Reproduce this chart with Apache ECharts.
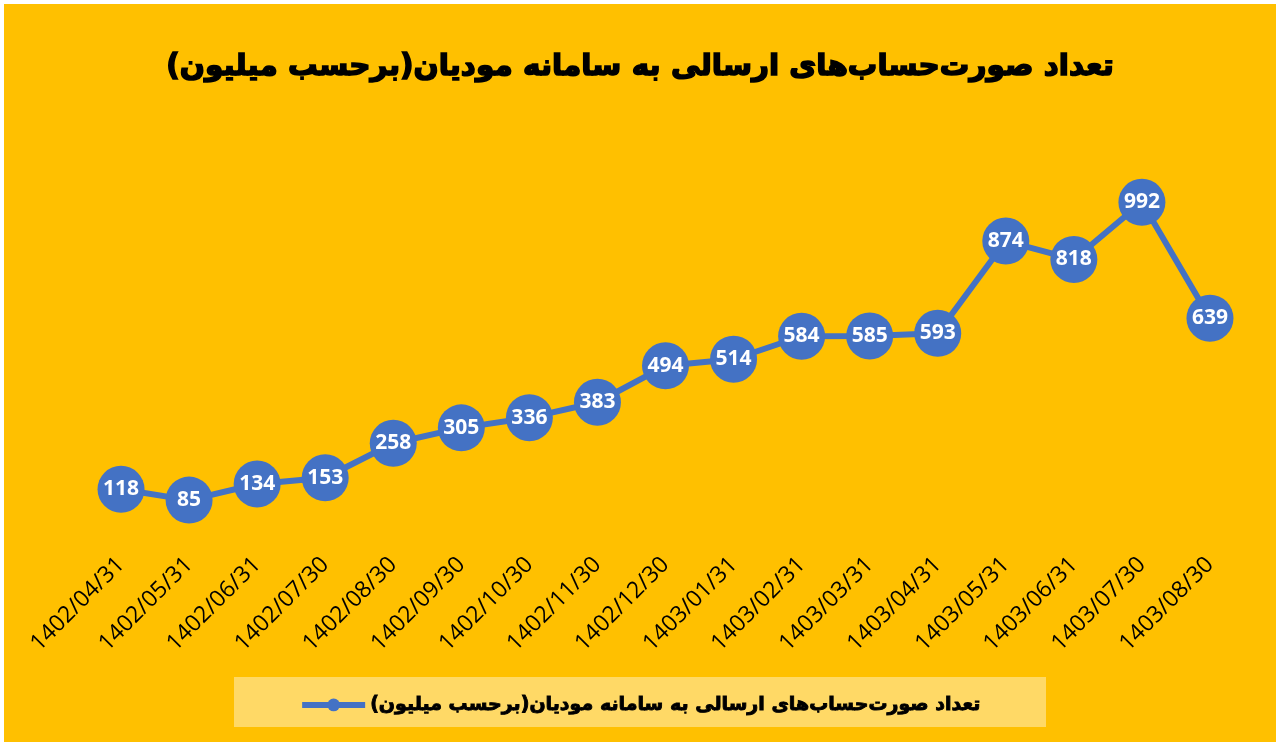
<!DOCTYPE html>
<html>
<head>
<meta charset="utf-8">
<script src="https://cdn.jsdelivr.net/npm/echarts@6/dist/echarts.min.js"></script>
<style>html,body{margin:0;padding:0;background:#fff;}#c{width:1280px;height:747px;}</style>
</head>
<body>
<div id="c"></div>
<script>
var titleText = 'تعداد صورت‌حساب‌های ارسالی به سامانه مودیان(برحسب میلیون)';
var seriesName = 'تعداد صورت‌حساب‌های ارسالی به سامانه مودیان(برحسب میلیون)';
var categories = ['1402/04/31','1402/05/31','1402/06/31','1402/07/30','1402/08/30','1402/09/30','1402/10/30','1402/11/30','1402/12/30','1403/01/31','1403/02/31','1403/03/31','1403/04/31','1403/05/31','1403/06/31','1403/07/30','1403/08/30'];
var values = [118, 85, 134, 153, 258, 305, 336, 383, 494, 514, 584, 585, 593, 874, 818, 992, 639];

var chart = echarts.init(document.getElementById('c'));
chart.setOption({
  backgroundColor: '#ffffff',
  animation: false,
  graphic: [
    {type: 'rect', z: -10, shape: {x: 4, y: 4, width: 1272, height: 738}, style: {fill: '#FFC000'}},
    {type: 'rect', z: -9, shape: {x: 234, y: 677, width: 812, height: 50}, style: {fill: '#FFD966'}}
  ],
  title: {
    text: titleText,
    left: 'center',
    top: 47,
    textStyle: {fontFamily: 'DejaVu Sans', fontWeight: 'bold', fontSize: 29.5, color: '#000',
      textBorderColor: '#000', textBorderWidth: 1.6}
  },
  legend: {
    data: [seriesName],
    left: 'center',
    top: 690,
    itemWidth: 63,
    itemHeight: 16,
    itemGap: 8,
    lineStyle: {width: 6},
    textStyle: {fontFamily: 'DejaVu Sans', fontWeight: 'bold', fontSize: 19, color: '#000',
      textBorderColor: '#000', textBorderWidth: 0.9}
  },
  grid: {left: 87, right: 36, top: 134, bottom: 219, containLabel: false},
  xAxis: {
    type: 'category',
    data: categories,
    boundaryGap: true,
    axisLine: {show: false},
    axisTick: {show: false},
    axisLabel: {
      rotate: 45,
      margin: 33,
      interval: 0,
      fontFamily: 'Open Sans',
      fontSize: 23,
      color: '#000'
    }
  },
  yAxis: {
    type: 'value',
    min: 0,
    max: 1200,
    show: false,
    splitLine: {show: false}
  },
  series: [{
    name: seriesName,
    type: 'line',
    data: values,
    symbol: 'circle',
    symbolSize: 47,
    lineStyle: {color: '#4472C4', width: 6},
    itemStyle: {color: '#4472C4'},
    label: {
      show: true,
      position: 'inside',
      color: '#fff',
      fontFamily: 'Open Sans',
      fontWeight: 'bold',
      fontSize: 21
    }
  }]
});
</script>
</body>
</html>
